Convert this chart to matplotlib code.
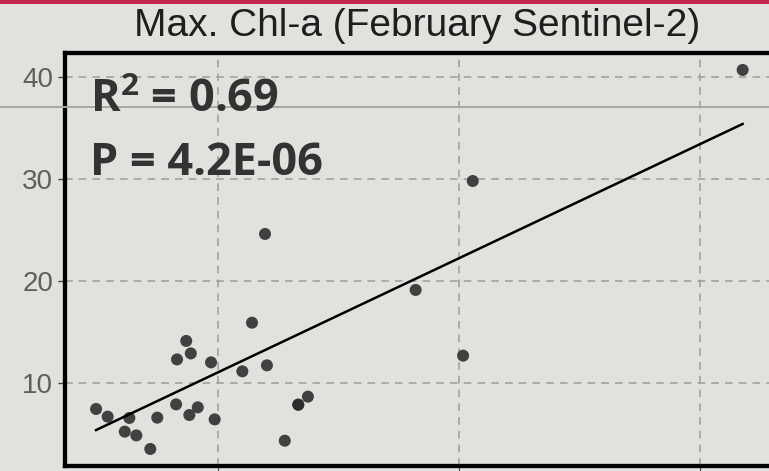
import numpy as np
import matplotlib
matplotlib.use("Agg")
import matplotlib.pyplot as plt
from matplotlib.lines import Line2D
from matplotlib.patches import Rectangle

# values (x grid at 10, 20, 30; x tick labels are cut off)
x_vals = [4.94, 5.42, 6.32, 6.13, 6.61, 7.19, 7.48, 8.26, 8.30, 8.68, 8.87,
          8.81, 9.16, 9.71, 9.86, 11.01, 11.41, 12.03, 13.33, 13.33, 13.73,
          12.77, 11.95, 18.20, 20.17, 20.57, 31.77]
y_vals = [7.42, 6.67, 6.54, 5.20, 4.83, 3.50, 6.57, 7.87, 12.28, 14.09, 12.87,
          6.83, 7.58, 11.99, 6.40, 11.11, 15.88, 11.70, 7.84, 7.84, 8.63,
          4.31, 24.58, 19.09, 12.65, 29.77, 40.66]

# fitted line as drawn in the picture
fit_intercept = -0.17
fit_slope = 1.1185

title = "Max. Chl-a (February Sentinel-2)"
r2_label = r"R$^{\mathbf{2}}$ = 0.69"
p_label = "P = 4.2E-06"
y_ticks = [10, 20, 30, 40]
x_ticks = [10, 20, 30]

bg = '#e3e1de'

plt.rcParams['mathtext.fontset'] = 'custom'
plt.rcParams['mathtext.bf'] = 'Open Sans:bold'
plt.rcParams['mathtext.rm'] = 'Open Sans:bold'

fig = plt.figure(figsize=(7.69, 4.71), dpi=100, facecolor=bg)
ax = fig.add_axes([65/769, 5/471, 735/769, 413.3/471])
ax.set_facecolor(bg)

ax.set_xlim(3.65, 34.15)
ax.set_ylim(1.83, 42.35)

ax.grid(True, color='#9c9c9c', linestyle=(0, (5, 4)), linewidth=1.1)
ax.set_axisbelow(True)

ax.scatter(x_vals, y_vals, s=75, color='#2b2b2b', alpha=0.88,
           edgecolors='none', zorder=3)

xf = np.array([min(x_vals), max(x_vals)])
ax.plot(xf, fit_intercept + fit_slope * xf, color='black', lw=1.8, zorder=4)

ax.set_yticks(y_ticks)
ax.set_xticks(x_ticks)
ax.set_xticklabels([])
ax.tick_params(axis='y', labelsize=20, labelcolor='#5e5e5e', color='#444444',
               length=5, width=1, pad=3.4, labelfontfamily='Liberation Sans')
ax.tick_params(axis='x', length=5, color='#444444')
for s in ax.spines.values():
    s.set_linewidth(3.1)
    s.set_color('black')

# photo artefacts: red strip at the top and a fold line across the sheet
fig.add_artist(Rectangle((0, 1 - 4/471), 1, 4/471, transform=fig.transFigure,
                         color='#c4264f', lw=0))
fig.add_artist(Line2D([0, 1], [1 - 106.7/471] * 2, transform=fig.transFigure,
                      color='#a9a7a4', lw=1.4))

fig.text(417/769, 1 - 35.7/471, title, ha='center', va='baseline',
         fontsize=28, family='Liberation Sans', color='#1e1e1e')
fig.text(90/769, 1 - 111.7/471, r2_label, ha='left', va='baseline',
         fontsize=32.4, family='Open Sans', fontweight='bold', color='#333333')
fig.text(90/769, 1 - 175/471, p_label, ha='left', va='baseline',
         fontsize=32.4, family='Open Sans', fontweight='bold', color='#333333')

fig.savefig('out.png', dpi=100, facecolor=bg)
